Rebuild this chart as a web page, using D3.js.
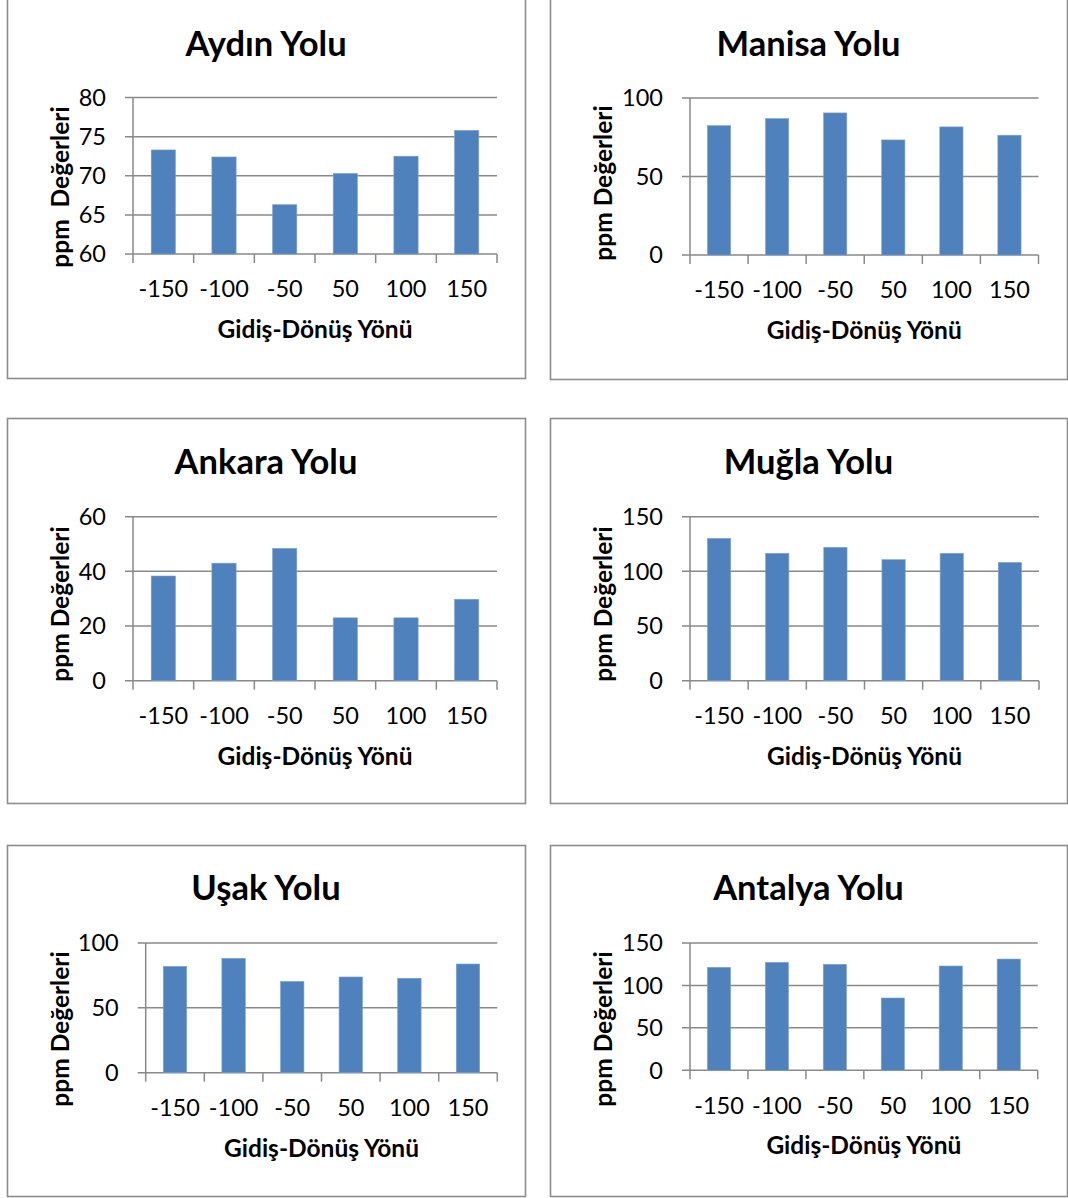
<!DOCTYPE html>
<html>
<head>
<meta charset="utf-8">
<script src="https://cdn.jsdelivr.net/npm/d3@7"></script>
<style>
  html, body { margin: 0; padding: 0; background: #ffffff; }
  svg { display: block; }
  text { font-family: Lato, "Open Sans", sans-serif; fill: #000; }
</style>
</head>
<body>
<svg id="chart" width="1068" height="1198"></svg>
<script>
// Direction categories shared by every panel
const categories = ["-150", "-100", "-50", "50", "100", "150"];

// ppm readings per road
const aydinValues   = [73.3, 72.4, 66.3, 70.3, 72.5, 75.8];
const manisaValues  = [82.4, 86.9, 90.5, 73.3, 81.6, 76.3];
const ankaraValues  = [38.3, 43.0, 48.4, 23.0, 23.0, 29.8];
const muglaValues   = [130.2, 116.5, 122.0, 110.7, 116.5, 108.2];
const usakValues    = [82.0, 88.2, 70.4, 73.8, 72.8, 83.8];
const antalyaValues = [121.3, 127.2, 124.9, 85.2, 122.9, 131.1];

// Titles and value axes
const panelTitles = ["Aydın Yolu", "Manisa Yolu", "Ankara Yolu", "Muğla Yolu", "Uşak Yolu", "Antalya Yolu"];
const aydinTicks   = [60, 65, 70, 75, 80];
const manisaTicks  = [0, 50, 100];
const ankaraTicks  = [0, 20, 40, 60];
const muglaTicks   = [0, 50, 100, 150];
const usakTicks    = [0, 50, 100];
const antalyaTicks = [0, 50, 100, 150];

const xTitle = "Gidiş-Dönüş Yönü";
const yTitles = ["ppm  Değerleri", "ppm Değerleri", "ppm Değerleri", "ppm Değerleri", "ppm Değerleri", "ppm Değerleri"];

const seriesValues = [aydinValues, manisaValues, ankaraValues, muglaValues, usakValues, antalyaValues];
const seriesTicks  = [aydinTicks, manisaTicks, ankaraTicks, muglaTicks, usakTicks, antalyaTicks];

// Frame and plot-area geometry for each panel
const layout = [
  { box: [7, -10, 518, 388],  plot: [133, 497, 97.5, 254],   titleY: 44,  yLabelY: 187 },
  { box: [550, -10, 517, 389], plot: [690, 1038.5, 98, 255],  titleY: 44,  yLabelY: 183 },
  { box: [7, 418, 518, 385],  plot: [133, 497, 516.7, 680.7], titleY: 462, yLabelY: 604 },
  { box: [550, 418, 517, 385], plot: [690, 1039, 516.7, 680.7], titleY: 462, yLabelY: 604 },
  { box: [7, 845, 518, 351],  plot: [145.7, 497.3, 943, 1072.7], titleY: 888, yLabelY: 1029 },
  { box: [550, 845, 517, 351], plot: [690, 1037.7, 943, 1070.3], titleY: 888, yLabelY: 1029 }
];

const svg = d3.select("#chart");
const gridColor = "#898989";
const barColor = "#4f81bd";

layout.forEach((L, i) => {
  const g = svg.append("g");
  const [bx, by, bw, bh] = L.box;
  const [left, right, top, bottom] = L.plot;
  const values = seriesValues[i];
  const ticks = seriesTicks[i];

  // panel frame
  g.append("rect")
    .attr("x", bx + 0.5).attr("y", by + 0.5)
    .attr("width", bw).attr("height", bh)
    .attr("fill", "#fff")
    .attr("stroke", "#8c8c8c").attr("stroke-width", 1.6);

  const x = d3.scaleBand()
    .domain(categories)
    .range([left, right])
    .paddingInner(0.6)
    .paddingOuter(0.3);

  const y = d3.scaleLinear()
    .domain(d3.extent(ticks))
    .range([bottom, top]);

  // horizontal gridlines (extended left as tick marks)
  g.append("g").selectAll("line").data(ticks).join("line")
    .attr("x1", left - 8).attr("x2", right)
    .attr("y1", d => y(d)).attr("y2", d => y(d))
    .attr("stroke", gridColor).attr("stroke-width", 1.5);

  // vertical value axis
  g.append("line")
    .attr("x1", left).attr("x2", left)
    .attr("y1", top).attr("y2", bottom)
    .attr("stroke", gridColor).attr("stroke-width", 1.5);

  // category boundary tick marks
  const step = x.step();
  const bounds = d3.range(categories.length + 1).map(k => x.range()[0] + k * step);
  g.append("g").selectAll("line").data(bounds).join("line")
    .attr("x1", d => d).attr("x2", d => d)
    .attr("y1", bottom).attr("y2", bottom + 9)
    .attr("stroke", gridColor).attr("stroke-width", 1.5);

  // bars
  g.append("g").selectAll("rect").data(values).join("rect")
    .attr("x", (d, k) => x(categories[k]))
    .attr("width", x.bandwidth())
    .attr("y", d => y(d))
    .attr("height", d => y(ticks[0]) - y(d))
    .attr("fill", barColor)
    .attr("stroke", "#7ea3d3").attr("stroke-width", 0.6);

  // value tick labels
  g.append("g").selectAll("text").data(ticks).join("text")
    .attr("x", left - 27)
    .attr("y", d => y(d))
    .attr("dy", "0.36em")
    .attr("text-anchor", "end")
    .attr("font-size", 23.5)
    .text(d => d);

  // category labels
  g.append("g").selectAll("text").data(categories).join("text")
    .attr("x", d => x(d) + x.bandwidth() / 2)
    .attr("y", bottom + 35)
    .attr("dy", "0.36em")
    .attr("text-anchor", "middle")
    .attr("font-size", 23.5)
    .text(d => d);

  // title
  g.append("text")
    .attr("x", bx + bw / 2)
    .attr("y", L.titleY)
    .attr("dy", "0.36em")
    .attr("text-anchor", "middle")
    .attr("font-size", 34.5)
    .attr("font-weight", "bold")
    .text(panelTitles[i]);

  // x axis title
  g.append("text")
    .attr("x", (left + right) / 2)
    .attr("y", bottom + 75)
    .attr("dy", "0.36em")
    .attr("text-anchor", "middle")
    .attr("font-size", 24.5)
    .attr("font-weight", "bold")
    .text(xTitle);

  // y axis title
  g.append("text")
    .attr("transform", `translate(${bx + 53},${L.yLabelY}) rotate(-90)`)
    .attr("dy", "0.36em")
    .attr("text-anchor", "middle")
    .attr("font-size", 24.5)
    .attr("font-weight", "bold")
    .attr("xml:space", "preserve")
    .style("white-space", "pre")
    .text(yTitles[i]);
});
</script>
</body>
</html>
